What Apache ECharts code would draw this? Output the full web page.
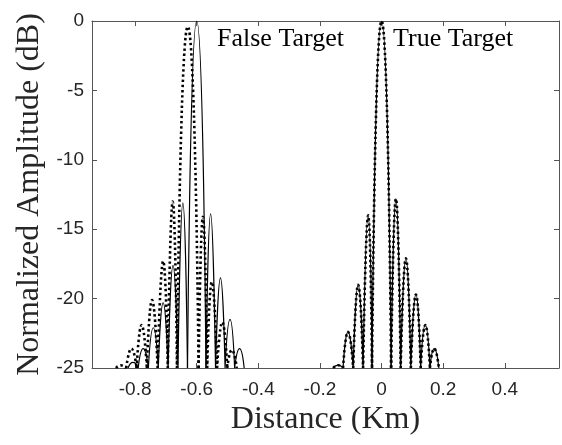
<!DOCTYPE html>
<html><head><meta charset="utf-8">
<script src="https://cdn.jsdelivr.net/npm/echarts@6/dist/echarts.min.js"></script>
<style>html,body{margin:0;padding:0;background:#fff}#c{width:562px;height:445px}</style>
</head><body><div id="c"></div>
<script>
// Axis ticks / limits
const xTicks = [-0.8, -0.6, -0.4, -0.2, 0, 0.2, 0.4];
const yTicks = [0, -5, -10, -15, -20, -25];
const xLimits = [-0.94, 0.576];
const yLimits = [-25, 0];

// Solid line, false target (lobe i spans nulls[i]..nulls[i+1], peak at peakX[i])
const solidFalseNulls = [-0.823, -0.790, -0.757, -0.725, -0.693, -0.661, -0.630, -0.570, -0.539, -0.508, -0.477, -0.446];
const solidFalsePeakX = [-0.807, -0.774, -0.741, -0.709, -0.677, -0.645, -0.600, -0.555, -0.523, -0.492, -0.461];
const solidFalsePeakDb = [-24.6, -23.6, -22.1, -20.3, -17.6, -13.1, 0.0, -13.9, -18.5, -21.5, -23.6];

// Dotted line, false target
const dotFalseNulls = [-0.862, -0.829, -0.795, -0.762, -0.727, -0.694, -0.664, -0.594, -0.566, -0.534, -0.501, -0.470];
const dotFalsePeakX = [-0.847, -0.812, -0.779, -0.745, -0.709, -0.678, -0.629, -0.580, -0.551, -0.517, -0.486];
const dotFalsePeakDb = [-24.8, -23.6, -21.9, -20.1, -17.3, -13.0, -0.4, -14.1, -18.8, -21.7, -23.7];

// True target (solid and dotted overlap)
const trueNulls = [-0.157, -0.125, -0.092, -0.060, -0.031, 0.031, 0.062, 0.095, 0.127, 0.157, 0.186];
const truePeakX = [-0.141, -0.109, -0.076, -0.0435, 0.0, 0.0465, 0.079, 0.1115, 0.142, 0.171];
const truePeakDb = [-24.8, -22.4, -19.0, -14.0, 0.0, -12.8, -17.1, -19.7, -21.9, -23.6];

const floorDb = yLimits[0];

function lobes(nulls, px, pdb, main) {
  const out = [];
  for (let i = 0; i < px.length; i++) {
    if ((pdb[i] > -5) !== main) continue;
    out.push([nulls[i], floorDb], [px[i], pdb[i]], [nulls[i + 1], floorDb], [nulls[i + 1], '-']);
  }
  return out;
}

const solidSide = lobes(solidFalseNulls, solidFalsePeakX, solidFalsePeakDb, false)
  .concat(lobes(trueNulls, truePeakX, truePeakDb, false));
const solidMain = lobes(solidFalseNulls, solidFalsePeakX, solidFalsePeakDb, true)
  .concat(lobes(trueNulls, truePeakX, truePeakDb, true));
const dotSide = lobes(dotFalseNulls, dotFalsePeakX, dotFalsePeakDb, false)
  .concat(lobes(trueNulls, truePeakX, truePeakDb, false));
const dotMain = lobes(dotFalseNulls, dotFalsePeakX, dotFalsePeakDb, true)
  .concat(lobes(trueNulls, truePeakX, truePeakDb, true));

const axisColor = '#262626';
const lineCol = '#555';
const sans = 'Liberation Sans, Arial, sans-serif';
const serif = 'Liberation Serif, Times New Roman, serif';

function boxAxis(pos, isX) {
  const a = {
    type: 'value', position: pos,
    min: isX ? xLimits[0] : yLimits[0], max: isX ? xLimits[1] : yLimits[1],
    axisLine: { show: true, onZero: false, lineStyle: { color: lineCol, width: 1 } },
    axisTick: { show: true, inside: true, length: 5, lineStyle: { color: lineCol } },
    axisLabel: { show: false },
    splitLine: { show: false }
  };
  if (isX) { a.axisTick.customValues = xTicks; a.axisLabel.customValues = xTicks; }
  else { a.interval = 5; }
  return a;
}

const xMain = boxAxis('bottom', true);
xMain.axisLabel = { show: true, customValues: xTicks, margin: 12, fontFamily: sans, fontSize: 19, color: axisColor,
  formatter: v => String(Math.round(v * 10) / 10) };
xMain.name = 'Distance (Km)';
xMain.nameLocation = 'middle';
xMain.nameGap = 32;
xMain.nameTextStyle = { fontFamily: serif, fontSize: 32, color: axisColor };

const yMain = boxAxis('left', false);
yMain.axisLabel = { show: true, margin: 8, fontFamily: sans, fontSize: 19, color: axisColor };
yMain.name = 'Normalized Amplitude (dB)';
yMain.nameLocation = 'middle';
yMain.nameGap = 43;
yMain.nameTextStyle = { fontFamily: serif, fontSize: 32, color: axisColor };

function lineSeries(data, smooth, dotted) {
  return {
    type: 'line', data: data, smooth: smooth, showSymbol: false, symbol: 'none',
    connectNulls: false, clip: true, silent: true,
    lineStyle: dotted ? { color: '#000', width: 2.6, type: [2.4, 2.8], cap: 'butt' }
                      : { color: '#000', width: 1.2 },
    z: dotted ? 3 : 2
  };
}

const chart = echarts.init(document.getElementById('c'), null, { renderer: 'canvas' });
chart.setOption({
  animation: false,
  backgroundColor: '#fff',
  grid: { left: 92, right: 3, top: 21, bottom: 77, containLabel: false },
  xAxis: [xMain, boxAxis('top', true)],
  yAxis: [yMain, boxAxis('right', false)],
  series: [
    lineSeries(solidSide, 0.55, false),
    lineSeries(solidMain, 0.7, false),
    lineSeries(dotSide, 0.55, true),
    lineSeries(dotMain, 0.7, true)
  ],
  graphic: [
    { type: 'text', left: 217, top: 26, style: { text: 'False Target', font: '26px ' + serif, fill: '#000' } },
    { type: 'text', left: 393, top: 26, style: { text: 'True Target', font: '26px ' + serif, fill: '#000' } }
  ]
});
</script></body></html>
